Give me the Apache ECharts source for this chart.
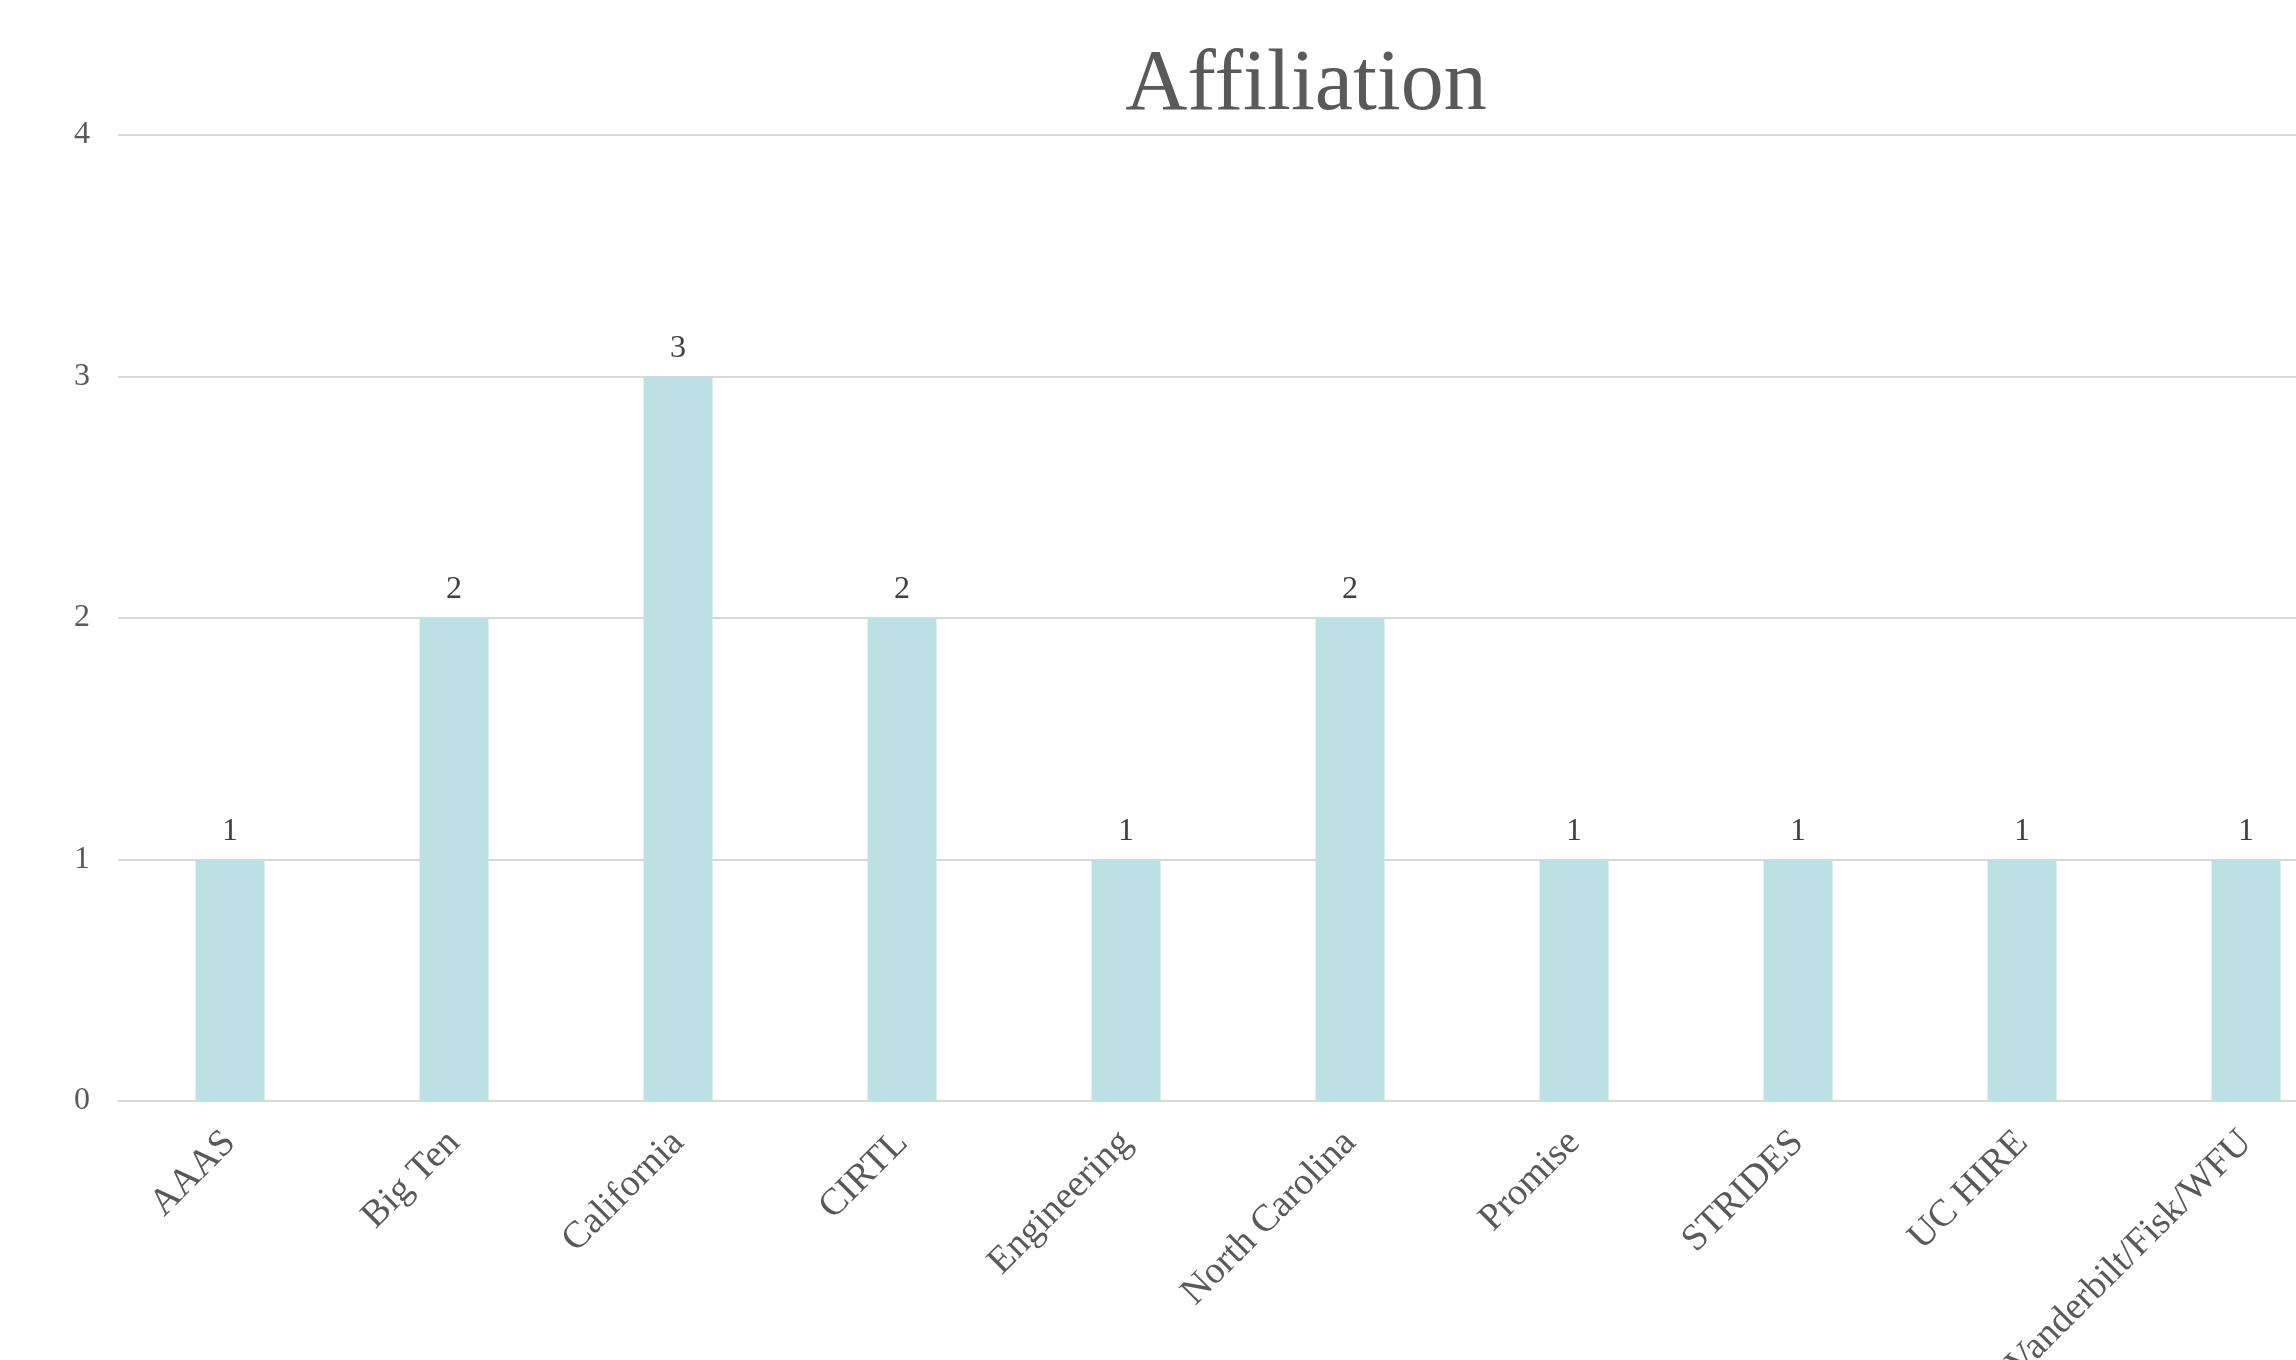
<!DOCTYPE html>
<html>
<head>
<meta charset="utf-8">
<script src="https://cdn.jsdelivr.net/npm/echarts@6/dist/echarts.min.js"></script>
<style>
html,body{margin:0;padding:0;background:#fff;}
#chart{width:2296px;height:1360px;}
</style>
</head>
<body>
<div id="chart"></div>
<script>
const categories = ["AAAS","Big Ten","California","CIRTL","Engineering","North Carolina","Promise","STRIDES","UC HIRE","Vanderbilt/Fisk/WFU"];
const counts = [1,2,3,2,1,2,1,1,1,1];
const yTicks = [0,1,2,3,4];
const titleText = "Affiliation";

const serif = "'Liberation Serif','DejaVu Serif',serif";
const chart = echarts.init(document.getElementById('chart'), null, {renderer:'canvas'});
chart.setOption({
  backgroundColor:'#ffffff',
  animation:false,
  title:{
    text:titleText,
    left:1301, top:38, textAlign:'center',
    textStyle:{fontFamily:serif,fontSize:86,fontWeight:'normal',color:'#595959'}
  },
  grid:{left:118, top:135, width:2240, height:966, containLabel:false, outerBoundsMode:'none'},
  xAxis:{
    type:'category',
    data:categories,
    axisTick:{show:false},
    axisLine:{lineStyle:{color:'#d9d9d9',width:2}},
    axisLabel:{rotate:45,margin:36,fontFamily:serif,fontSize:38,color:'#595959',interval:0}
  },
  yAxis:{
    type:'value',
    min:yTicks[0], max:yTicks[yTicks.length-1], interval:1,
    axisLine:{show:false},
    axisTick:{show:false},
    splitLine:{lineStyle:{color:'#d9d9d9',width:2}},
    axisLabel:{margin:28,fontFamily:serif,fontSize:32,color:'#595959'}
  },
  series:[{
    type:'bar',
    data:counts,
    barWidth:69,
    itemStyle:{color:'#bce0e3'},
    label:{show:true,position:'top',distance:12,fontFamily:serif,fontSize:32,color:'#404040'}
  }]
});
</script>
</body>
</html>
